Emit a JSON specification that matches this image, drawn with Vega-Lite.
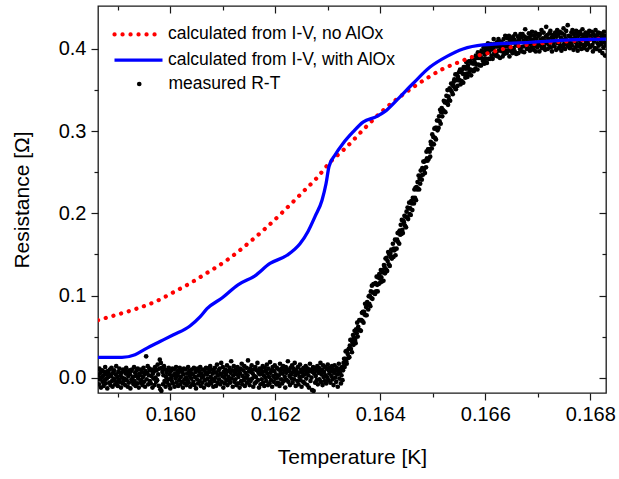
{
"$schema": "https://vega.github.io/schema/vega-lite/v6.json",
"autosize": {"type": "none"},
"width": 508, "height": 387,
"padding": {"left": 98, "top": 6, "right": 13, "bottom": 86},
"background": "white",
"config": {
  "view": {"stroke": "#1a1a1a", "strokeWidth": 1.3},
  "axis": {"grid": false, "domain": false, "tickColor": "#1a1a1a", "tickWidth": 1.2, "labelFont": "Liberation Sans", "labelFontSize": 20, "labelColor": "black", "titleFont": "Liberation Sans", "titleFontSize": 21, "titleFontWeight": "normal", "titleColor": "black"},
  "legend": {"orient": "none", "title": null, "padding": 0, "labelFont": "Liberation Sans", "labelFontSize": 17.5, "labelColor": "black", "labelLimit": 400, "symbolOpacity": 1}
},
"datasets": {
"m1": [
{"t":0.15863,"r":0.003},{"t":0.15864,"r":-0.008},{"t":0.15865,"r":0.011},{"t":0.15866,"r":-0.002},{"t":0.15867,"r":0.006},{"t":0.15868,"r":-0.012},{"t":0.15869,"r":0.000},{"t":0.15870,"r":0.009},{"t":0.15871,"r":-0.005},{"t":0.15872,"r":0.002},
{"t":0.15873,"r":-0.010},{"t":0.15874,"r":0.007},{"t":0.15875,"r":-0.003},{"t":0.15876,"r":0.013},{"t":0.15877,"r":-0.007},{"t":0.15878,"r":0.004},{"t":0.15879,"r":-0.001},{"t":0.15880,"r":-0.013},{"t":0.15881,"r":0.008},{"t":0.15882,"r":0.001},
{"t":0.15883,"r":0.005},{"t":0.15884,"r":-0.006},{"t":0.15885,"r":0.010},{"t":0.15886,"r":-0.009},{"t":0.15887,"r":0.002},{"t":0.15888,"r":0.012},{"t":0.15889,"r":-0.004},{"t":0.15890,"r":-0.011},{"t":0.15891,"r":0.006},{"t":0.15892,"r":-0.001},
{"t":0.15893,"r":0.009},{"t":0.15894,"r":-0.003},{"t":0.15895,"r":-0.008},{"t":0.15896,"r":0.004},{"t":0.15897,"r":0.014},{"t":0.15898,"r":-0.006},{"t":0.15899,"r":0.001},{"t":0.15900,"r":-0.010},{"t":0.15901,"r":0.007},{"t":0.15902,"r":-0.002},
{"t":0.15903,"r":0.011},{"t":0.15904,"r":-0.005},{"t":0.15905,"r":0.003},{"t":0.15906,"r":-0.012},{"t":0.15907,"r":0.006},{"t":0.15908,"r":0.000},{"t":0.15909,"r":-0.007},{"t":0.15910,"r":0.010},{"t":0.15911,"r":-0.004},{"t":0.15912,"r":0.008},
{"t":0.15913,"r":-0.001},{"t":0.15914,"r":-0.009},{"t":0.15915,"r":0.005},{"t":0.15916,"r":0.012},{"t":0.15917,"r":-0.003},{"t":0.15918,"r":0.007},{"t":0.15919,"r":-0.011},{"t":0.15920,"r":0.002},{"t":0.15921,"r":-0.006},{"t":0.15922,"r":0.009},
{"t":0.15923,"r":0.004},{"t":0.15924,"r":-0.013},{"t":0.15925,"r":0.008},{"t":0.15926,"r":-0.002},{"t":0.15927,"r":0.010},{"t":0.15928,"r":-0.005},{"t":0.15929,"r":0.001},{"t":0.15930,"r":-0.008},{"t":0.15931,"r":0.013},{"t":0.15932,"r":-0.004},
{"t":0.15933,"r":0.006},{"t":0.15934,"r":-0.010},{"t":0.15935,"r":0.002},{"t":0.15936,"r":0.009},{"t":0.15937,"r":-0.007},{"t":0.15938,"r":0.011},{"t":0.15939,"r":-0.001},{"t":0.15940,"r":-0.012},{"t":0.15941,"r":0.005},{"t":0.15942,"r":0.003},
{"t":0.15943,"r":-0.006},{"t":0.15944,"r":0.010},{"t":0.15945,"r":-0.003},{"t":0.15946,"r":0.007},{"t":0.15947,"r":-0.009},{"t":0.15948,"r":0.001},{"t":0.15949,"r":0.012},{"t":0.15950,"r":-0.005},{"t":0.15951,"r":0.004},{"t":0.15952,"r":-0.011},
{"t":0.15953,"r":0.008},{"t":0.15954,"r":0.026},{"t":0.15955,"r":-0.002},{"t":0.15956,"r":0.006},{"t":0.15957,"r":0.014},{"t":0.15958,"r":-0.008},{"t":0.15959,"r":0.003},{"t":0.15960,"r":0.011},{"t":0.15961,"r":-0.004},{"t":0.15962,"r":0.009},
{"t":0.15963,"r":-0.007},{"t":0.15964,"r":0.002},{"t":0.15965,"r":0.010},{"t":0.15966,"r":-0.012},{"t":0.15967,"r":0.005},{"t":0.15968,"r":-0.001},{"t":0.15969,"r":0.008},{"t":0.15970,"r":-0.009},{"t":0.15971,"r":0.013},{"t":0.15972,"r":0.000},
{"t":0.15973,"r":-0.005},{"t":0.15974,"r":0.009},{"t":0.15975,"r":-0.003},{"t":0.15976,"r":0.016},{"t":0.15977,"r":0.004},{"t":0.15978,"r":-0.010},{"t":0.15979,"r":0.011},{"t":0.15980,"r":0.022},{"t":0.15981,"r":-0.014},{"t":0.15982,"r":0.018},
{"t":0.15983,"r":-0.016},{"t":0.15984,"r":0.012},{"t":0.15985,"r":0.007},{"t":0.15986,"r":-0.008},{"t":0.15987,"r":0.003},{"t":0.15988,"r":0.014},{"t":0.15989,"r":-0.004},{"t":0.15990,"r":0.010},{"t":0.15991,"r":-0.011},{"t":0.15992,"r":0.001},
{"t":0.15993,"r":0.006},{"t":0.15994,"r":-0.006},{"t":0.15995,"r":0.009},{"t":0.15996,"r":-0.002},{"t":0.15997,"r":0.012},{"t":0.15998,"r":-0.009},{"t":0.15999,"r":0.004},{"t":0.16000,"r":-0.013},{"t":0.16001,"r":0.008},{"t":0.16002,"r":0.000},
{"t":0.16003,"r":-0.004},{"t":0.16004,"r":0.011},{"t":0.16005,"r":-0.007},{"t":0.16006,"r":0.003},{"t":0.16007,"r":0.010},{"t":0.16008,"r":-0.011},{"t":0.16009,"r":0.005},{"t":0.16010,"r":-0.001},{"t":0.16011,"r":0.013},{"t":0.16012,"r":-0.006},
{"t":0.16013,"r":0.002},{"t":0.16014,"r":0.008},{"t":0.16015,"r":-0.010},{"t":0.16016,"r":0.006},{"t":0.16017,"r":-0.003},{"t":0.16018,"r":0.012},{"t":0.16019,"r":-0.008},{"t":0.16020,"r":0.001},{"t":0.16021,"r":0.009},{"t":0.16022,"r":-0.005},
{"t":0.16023,"r":0.007},{"t":0.16024,"r":-0.012},{"t":0.16025,"r":0.004},{"t":0.16026,"r":0.011},{"t":0.16027,"r":-0.002},{"t":0.16028,"r":-0.007},{"t":0.16029,"r":0.010},{"t":0.16030,"r":0.000},{"t":0.16031,"r":-0.009},{"t":0.16032,"r":0.005},
{"t":0.16033,"r":-0.003},{"t":0.16034,"r":0.013},{"t":0.16035,"r":-0.006},{"t":0.16036,"r":0.008},{"t":0.16037,"r":0.002},{"t":0.16038,"r":-0.011},{"t":0.16039,"r":0.006},{"t":0.16040,"r":-0.001},{"t":0.16041,"r":0.010},{"t":0.16042,"r":-0.008},
{"t":0.16043,"r":0.004},{"t":0.16044,"r":-0.005},{"t":0.16045,"r":0.012},{"t":0.16046,"r":-0.009},{"t":0.16047,"r":0.001},{"t":0.16048,"r":0.007},{"t":0.16049,"r":-0.013},{"t":0.16050,"r":0.009},{"t":0.16051,"r":-0.002},{"t":0.16052,"r":0.011},
{"t":0.16053,"r":-0.007},{"t":0.16054,"r":0.003},{"t":0.16055,"r":0.008},{"t":0.16056,"r":-0.004},{"t":0.16057,"r":0.013},{"t":0.16058,"r":-0.010},{"t":0.16059,"r":0.005},{"t":0.16060,"r":0.000},{"t":0.16061,"r":-0.006},{"t":0.16062,"r":0.010},
{"t":0.16063,"r":0.002},{"t":0.16064,"r":-0.012},{"t":0.16065,"r":0.009},{"t":0.16066,"r":-0.003},{"t":0.16067,"r":0.006},{"t":0.16068,"r":0.012},{"t":0.16069,"r":-0.008},{"t":0.16070,"r":0.004},{"t":0.16071,"r":-0.001},{"t":0.16072,"r":0.011},
{"t":0.16073,"r":-0.009},{"t":0.16074,"r":0.007},{"t":0.16075,"r":-0.005},{"t":0.16076,"r":0.014},{"t":0.16077,"r":0.001},{"t":0.16078,"r":-0.007},{"t":0.16079,"r":0.010},{"t":0.16080,"r":-0.002},{"t":0.16081,"r":0.005},{"t":0.16082,"r":-0.011},
{"t":0.16083,"r":0.008},{"t":0.16084,"r":-0.004},{"t":0.16085,"r":0.012},{"t":0.16086,"r":0.000},{"t":0.16087,"r":-0.010},{"t":0.16088,"r":0.006},{"t":0.16089,"r":0.016},{"t":0.16090,"r":-0.006},{"t":0.16091,"r":0.003},{"t":0.16092,"r":0.009},
{"t":0.16093,"r":-0.002},{"t":0.16094,"r":0.011},{"t":0.16095,"r":-0.008},{"t":0.16096,"r":0.005},{"t":0.16097,"r":0.018},{"t":0.16098,"r":-0.005},{"t":0.16099,"r":0.002},{"t":0.16100,"r":0.013},{"t":0.16101,"r":-0.012},{"t":0.16102,"r":0.007},
{"t":0.16103,"r":0.000},{"t":0.16104,"r":-0.007},{"t":0.16105,"r":0.010},{"t":0.16106,"r":0.004},{"t":0.16107,"r":-0.003},{"t":0.16108,"r":0.015},{"t":0.16109,"r":-0.009},{"t":0.16110,"r":0.008},{"t":0.16111,"r":0.001},{"t":0.16112,"r":-0.004},
{"t":0.16113,"r":0.012},{"t":0.16114,"r":-0.006},{"t":0.16115,"r":0.006},{"t":0.16116,"r":0.020},{"t":0.16117,"r":-0.001},{"t":0.16118,"r":0.009},{"t":0.16119,"r":-0.011},{"t":0.16120,"r":0.003},{"t":0.16121,"r":0.014},{"t":0.16122,"r":-0.005},
{"t":0.16123,"r":0.007},{"t":0.16124,"r":-0.002},{"t":0.16125,"r":0.010},{"t":0.16126,"r":-0.009},{"t":0.16127,"r":0.004},{"t":0.16128,"r":0.013},{"t":0.16129,"r":-0.007},{"t":0.16130,"r":0.001},{"t":0.16131,"r":0.008},{"t":0.16132,"r":-0.012},
{"t":0.16133,"r":0.005},{"t":0.16134,"r":0.011},{"t":0.16135,"r":-0.004},{"t":0.16136,"r":0.017},{"t":0.16137,"r":-0.008},{"t":0.16138,"r":0.002},{"t":0.16139,"r":0.009},{"t":0.16140,"r":-0.003},{"t":0.16141,"r":0.014},{"t":0.16142,"r":-0.010},
{"t":0.16143,"r":0.006},{"t":0.16144,"r":0.000},{"t":0.16145,"r":0.012},{"t":0.16146,"r":-0.006},{"t":0.16147,"r":0.003},{"t":0.16148,"r":0.021},{"t":0.16149,"r":-0.002},{"t":0.16150,"r":0.008},{"t":0.16151,"r":-0.009},{"t":0.16152,"r":0.011},
{"t":0.16153,"r":-0.004},{"t":0.16154,"r":0.007},{"t":0.16155,"r":0.015},{"t":0.16156,"r":-0.001},{"t":0.16157,"r":0.005},{"t":0.16158,"r":-0.011},{"t":0.16159,"r":0.010},{"t":0.16160,"r":0.002},{"t":0.16161,"r":-0.007},{"t":0.16162,"r":0.013},
{"t":0.16163,"r":0.001},{"t":0.16164,"r":-0.005},{"t":0.16165,"r":0.009},{"t":0.16166,"r":0.018},{"t":0.16167,"r":-0.003},{"t":0.16168,"r":0.006},{"t":0.16169,"r":-0.012},{"t":0.16170,"r":0.011},{"t":0.16171,"r":0.004},{"t":0.16172,"r":-0.008},
{"t":0.16173,"r":0.010},{"t":0.16174,"r":-0.002},{"t":0.16175,"r":0.007},{"t":0.16176,"r":0.014},{"t":0.16177,"r":-0.006},{"t":0.16178,"r":0.003},{"t":0.16179,"r":-0.010},{"t":0.16180,"r":0.012},{"t":0.16181,"r":0.000},{"t":0.16182,"r":0.008},
{"t":0.16183,"r":-0.004},{"t":0.16184,"r":0.016},{"t":0.16185,"r":0.005},{"t":0.16186,"r":-0.009},{"t":0.16187,"r":0.011},{"t":0.16188,"r":0.001},{"t":0.16189,"r":-0.007},{"t":0.16190,"r":0.019},{"t":0.16191,"r":0.006},{"t":0.16192,"r":-0.003},
{"t":0.16193,"r":0.009},{"t":0.16194,"r":-0.011},{"t":0.16195,"r":0.013},{"t":0.16196,"r":0.002},{"t":0.16197,"r":-0.005},{"t":0.16198,"r":0.008},{"t":0.16199,"r":0.015},{"t":0.16200,"r":-0.001},{"t":0.16201,"r":0.004},{"t":0.16202,"r":-0.008},
{"t":0.16203,"r":0.012},{"t":0.16204,"r":0.000},{"t":0.16205,"r":-0.006},{"t":0.16206,"r":0.010},{"t":0.16207,"r":0.003},{"t":0.16208,"r":-0.010},{"t":0.16209,"r":0.017},{"t":0.16210,"r":0.007},{"t":0.16211,"r":-0.002},{"t":0.16212,"r":0.011},
{"t":0.16213,"r":-0.007},{"t":0.16214,"r":0.005},{"t":0.16215,"r":0.014},{"t":0.16216,"r":-0.004},{"t":0.16217,"r":0.009},{"t":0.16218,"r":0.001},{"t":0.16219,"r":-0.012},{"t":0.16220,"r":0.013},{"t":0.16221,"r":0.006},{"t":0.16222,"r":-0.003},
{"t":0.16223,"r":0.010},{"t":0.16224,"r":0.020},{"t":0.16225,"r":-0.005},{"t":0.16226,"r":0.008},{"t":0.16227,"r":0.002},{"t":0.16228,"r":-0.009},{"t":0.16229,"r":0.012},{"t":0.16230,"r":0.004},{"t":0.16231,"r":-0.001},{"t":0.16232,"r":0.015},
{"t":0.16233,"r":-0.006},{"t":0.16234,"r":0.007},{"t":0.16235,"r":0.011},{"t":0.16236,"r":-0.002},{"t":0.16237,"r":0.018},{"t":0.16238,"r":0.003},{"t":0.16239,"r":-0.010},{"t":0.16240,"r":0.009},{"t":0.16241,"r":0.005},{"t":0.16242,"r":-0.004},
{"t":0.16243,"r":0.013},{"t":0.16244,"r":-0.008},{"t":0.16245,"r":0.006},{"t":0.16246,"r":0.001},{"t":0.16247,"r":0.016},{"t":0.16248,"r":-0.003},{"t":0.16249,"r":0.010},{"t":0.16250,"r":-0.011},{"t":0.16251,"r":0.007},{"t":0.16252,"r":0.002},
{"t":0.16253,"r":-0.005},{"t":0.16254,"r":0.012},{"t":0.16255,"r":0.004},{"t":0.16256,"r":-0.007},{"t":0.16257,"r":0.009},{"t":0.16258,"r":0.014},{"t":0.16259,"r":-0.001},{"t":0.16260,"r":0.006},{"t":0.16261,"r":-0.009},{"t":0.16262,"r":0.011},
{"t":0.16263,"r":0.003},{"t":0.16264,"r":-0.012},{"t":0.16265,"r":0.008},{"t":0.16266,"r":0.017},{"t":0.16267,"r":-0.004},{"t":0.16268,"r":0.010},{"t":0.16269,"r":0.000},{"t":0.16270,"r":-0.015},{"t":0.16271,"r":0.007},{"t":0.16272,"r":0.013},
{"t":0.16273,"r":-0.016},{"t":0.16274,"r":0.005},{"t":0.16275,"r":0.011},{"t":0.16276,"r":-0.006},{"t":0.16277,"r":0.002},{"t":0.16278,"r":0.009},{"t":0.16279,"r":-0.003},{"t":0.16280,"r":0.014},{"t":0.16281,"r":-0.008},{"t":0.16282,"r":0.006},
{"t":0.16283,"r":0.012},{"t":0.16284,"r":-0.002},{"t":0.16285,"r":0.008},{"t":0.16286,"r":0.018},{"t":0.16287,"r":-0.005},{"t":0.16288,"r":0.004},{"t":0.16289,"r":0.010},{"t":0.16290,"r":-0.009},{"t":0.16291,"r":0.015},{"t":0.16292,"r":0.001},
{"t":0.16293,"r":0.007},{"t":0.16294,"r":-0.004},{"t":0.16295,"r":0.013},{"t":0.16296,"r":0.003},{"t":0.16297,"r":-0.007},{"t":0.16298,"r":0.011},{"t":0.16299,"r":0.000},{"t":0.16300,"r":0.016},{"t":0.16301,"r":-0.003},{"t":0.16302,"r":0.009},
{"t":0.16303,"r":0.005},{"t":0.16304,"r":0.012},{"t":0.16305,"r":-0.006},{"t":0.16306,"r":0.008},{"t":0.16307,"r":0.002},{"t":0.16308,"r":0.014},{"t":0.16309,"r":-0.002},{"t":0.16310,"r":0.010},{"t":0.16311,"r":-0.009},{"t":0.16312,"r":0.006},
{"t":0.16313,"r":0.015},{"t":0.16314,"r":0.000},{"t":0.16315,"r":0.009},{"t":0.16316,"r":-0.005},{"t":0.16317,"r":0.012},{"t":0.16318,"r":0.004},{"t":0.16319,"r":-0.011},{"t":0.16320,"r":0.008},{"t":0.16321,"r":0.017},{"t":0.16322,"r":-0.001},
{"t":0.16323,"r":0.006},{"t":0.16324,"r":0.011},{"t":0.16325,"r":-0.007},{"t":0.16326,"r":0.003},{"t":0.16327,"r":0.013},{"t":0.16328,"r":-0.003},{"t":0.16329,"r":0.009},{"t":0.16330,"r":0.018}
],
"m2": [
{"t":0.16331,"r":0.023},{"t":0.16332,"r":0.013},{"t":0.16333,"r":0.023},{"t":0.16334,"r":0.032},{"t":0.16335,"r":0.020},{"t":0.16336,"r":0.017},{"t":0.16337,"r":0.033},{"t":0.16338,"r":0.029},{"t":0.16339,"r":0.024},{"t":0.16340,"r":0.035},
{"t":0.16341,"r":0.025},{"t":0.16342,"r":0.039},{"t":0.16343,"r":0.046},{"t":0.16344,"r":0.035},{"t":0.16345,"r":0.046},{"t":0.16346,"r":0.031},{"t":0.16347,"r":0.043},{"t":0.16348,"r":0.052},{"t":0.16349,"r":0.040},{"t":0.16350,"r":0.049},
{"t":0.16351,"r":0.057},{"t":0.16352,"r":0.046},{"t":0.16353,"r":0.042},{"t":0.16354,"r":0.059},{"t":0.16355,"r":0.054},{"t":0.16356,"r":0.067},{"t":0.16357,"r":0.050},{"t":0.16358,"r":0.062},{"t":0.16359,"r":0.058},{"t":0.16360,"r":0.070},
{"t":0.16361,"r":0.058},{"t":0.16362,"r":0.070},{"t":0.16363,"r":0.057},{"t":0.16364,"r":0.070},{"t":0.16365,"r":0.079},{"t":0.16366,"r":0.069},{"t":0.16367,"r":0.080},{"t":0.16368,"r":0.067},{"t":0.16369,"r":0.080},{"t":0.16370,"r":0.077},
{"t":0.16371,"r":0.090},{"t":0.16372,"r":0.076},{"t":0.16373,"r":0.086},{"t":0.16374,"r":0.076},{"t":0.16375,"r":0.092},{"t":0.16376,"r":0.089},{"t":0.16377,"r":0.083},{"t":0.16378,"r":0.099},{"t":0.16379,"r":0.090},{"t":0.16380,"r":0.100},
{"t":0.16381,"r":0.087},{"t":0.16382,"r":0.105},{"t":0.16383,"r":0.097},{"t":0.16384,"r":0.112},{"t":0.16385,"r":0.096},{"t":0.16386,"r":0.104},{"t":0.16387,"r":0.114},{"t":0.16388,"r":0.103},{"t":0.16389,"r":0.114},{"t":0.16390,"r":0.102},
{"t":0.16391,"r":0.115},{"t":0.16392,"r":0.105},{"t":0.16393,"r":0.123},{"t":0.16394,"r":0.113},{"t":0.16395,"r":0.105},{"t":0.16396,"r":0.122},{"t":0.16397,"r":0.114},{"t":0.16398,"r":0.126},{"t":0.16399,"r":0.121},{"t":0.16400,"r":0.116},
{"t":0.16401,"r":0.131},{"t":0.16402,"r":0.122},{"t":0.16403,"r":0.117},{"t":0.16404,"r":0.131},{"t":0.16405,"r":0.128},{"t":0.16406,"r":0.118},{"t":0.16407,"r":0.137},{"t":0.16408,"r":0.135},{"t":0.16409,"r":0.127},{"t":0.16410,"r":0.145},
{"t":0.16411,"r":0.132},{"t":0.16412,"r":0.146},{"t":0.16413,"r":0.130},{"t":0.16414,"r":0.142},{"t":0.16415,"r":0.153},{"t":0.16416,"r":0.138},{"t":0.16417,"r":0.150},{"t":0.16418,"r":0.136},{"t":0.16419,"r":0.151},{"t":0.16420,"r":0.147},
{"t":0.16421,"r":0.156},{"t":0.16422,"r":0.145},{"t":0.16423,"r":0.155},{"t":0.16424,"r":0.163},{"t":0.16425,"r":0.147},{"t":0.16426,"r":0.157},{"t":0.16427,"r":0.155},{"t":0.16428,"r":0.168},{"t":0.16429,"r":0.149},{"t":0.16430,"r":0.167},
{"t":0.16431,"r":0.157},{"t":0.16432,"r":0.168},{"t":0.16433,"r":0.176},{"t":0.16434,"r":0.165},{"t":0.16435,"r":0.177},{"t":0.16436,"r":0.163},{"t":0.16437,"r":0.179},{"t":0.16438,"r":0.174},{"t":0.16439,"r":0.186},{"t":0.16440,"r":0.175},
{"t":0.16441,"r":0.192},{"t":0.16442,"r":0.180},{"t":0.16443,"r":0.176},{"t":0.16444,"r":0.191},{"t":0.16445,"r":0.189},{"t":0.16446,"r":0.197},{"t":0.16447,"r":0.185},{"t":0.16448,"r":0.196},{"t":0.16449,"r":0.183},{"t":0.16450,"r":0.202},
{"t":0.16451,"r":0.195},{"t":0.16452,"r":0.207},{"t":0.16453,"r":0.193},{"t":0.16454,"r":0.206},{"t":0.16455,"r":0.213},{"t":0.16456,"r":0.199},{"t":0.16457,"r":0.206},{"t":0.16458,"r":0.198},{"t":0.16459,"r":0.215},{"t":0.16460,"r":0.212},
{"t":0.16461,"r":0.204},{"t":0.16462,"r":0.219},{"t":0.16463,"r":0.217},{"t":0.16464,"r":0.212},{"t":0.16465,"r":0.229},{"t":0.16466,"r":0.219},{"t":0.16467,"r":0.231},{"t":0.16468,"r":0.216},{"t":0.16469,"r":0.232},{"t":0.16470,"r":0.229},
{"t":0.16471,"r":0.238},{"t":0.16472,"r":0.230},{"t":0.16473,"r":0.246},{"t":0.16474,"r":0.229},{"t":0.16475,"r":0.242},{"t":0.16476,"r":0.236},{"t":0.16477,"r":0.252},{"t":0.16478,"r":0.246},{"t":0.16479,"r":0.241},{"t":0.16480,"r":0.255},
{"t":0.16481,"r":0.247},{"t":0.16482,"r":0.263},{"t":0.16483,"r":0.253},{"t":0.16484,"r":0.263},{"t":0.16485,"r":0.249},{"t":0.16486,"r":0.264},{"t":0.16487,"r":0.256},{"t":0.16488,"r":0.275},{"t":0.16489,"r":0.267},{"t":0.16490,"r":0.264},
{"t":0.16491,"r":0.278},{"t":0.16492,"r":0.266},{"t":0.16493,"r":0.278},{"t":0.16494,"r":0.275},{"t":0.16495,"r":0.269},{"t":0.16496,"r":0.287},{"t":0.16497,"r":0.284},{"t":0.16498,"r":0.279},{"t":0.16499,"r":0.296},{"t":0.16500,"r":0.285},
{"t":0.16501,"r":0.293},{"t":0.16502,"r":0.284},{"t":0.16503,"r":0.303},{"t":0.16504,"r":0.292},{"t":0.16505,"r":0.304},{"t":0.16506,"r":0.290},{"t":0.16507,"r":0.304},{"t":0.16508,"r":0.313},{"t":0.16509,"r":0.301},{"t":0.16510,"r":0.313},
{"t":0.16511,"r":0.304},{"t":0.16512,"r":0.318},{"t":0.16513,"r":0.312},{"t":0.16514,"r":0.326},{"t":0.16515,"r":0.309},{"t":0.16516,"r":0.323},{"t":0.16517,"r":0.328},{"t":0.16518,"r":0.318},{"t":0.16519,"r":0.326},{"t":0.16520,"r":0.324},
{"t":0.16521,"r":0.337},{"t":0.16522,"r":0.324},{"t":0.16523,"r":0.335},{"t":0.16524,"r":0.323},{"t":0.16525,"r":0.336},{"t":0.16526,"r":0.343},{"t":0.16527,"r":0.334},{"t":0.16528,"r":0.350},{"t":0.16529,"r":0.332},{"t":0.16530,"r":0.342},
{"t":0.16531,"r":0.338},{"t":0.16532,"r":0.352},{"t":0.16533,"r":0.337},{"t":0.16534,"r":0.350},{"t":0.16535,"r":0.358},{"t":0.16536,"r":0.348},{"t":0.16537,"r":0.357},{"t":0.16538,"r":0.345},{"t":0.16539,"r":0.355},{"t":0.16540,"r":0.360},
{"t":0.16541,"r":0.363},{"t":0.16542,"r":0.353},{"t":0.16543,"r":0.369},{"t":0.16544,"r":0.351},{"t":0.16545,"r":0.362},{"t":0.16546,"r":0.369},{"t":0.16547,"r":0.355},{"t":0.16548,"r":0.366},{"t":0.16549,"r":0.362},{"t":0.16550,"r":0.372},
{"t":0.16551,"r":0.362},{"t":0.16552,"r":0.375},{"t":0.16553,"r":0.357},{"t":0.16554,"r":0.372},{"t":0.16555,"r":0.361},{"t":0.16556,"r":0.375},{"t":0.16557,"r":0.370},{"t":0.16558,"r":0.359},{"t":0.16559,"r":0.378},{"t":0.16560,"r":0.369},
{"t":0.16561,"r":0.378},{"t":0.16562,"r":0.365},{"t":0.16563,"r":0.376},{"t":0.16564,"r":0.384},{"t":0.16565,"r":0.370},{"t":0.16566,"r":0.366},{"t":0.16567,"r":0.380},{"t":0.16568,"r":0.376},{"t":0.16569,"r":0.385},{"t":0.16570,"r":0.372},
{"t":0.16571,"r":0.385},{"t":0.16572,"r":0.375},{"t":0.16573,"r":0.368},{"t":0.16574,"r":0.383},{"t":0.16575,"r":0.389},{"t":0.16576,"r":0.374},{"t":0.16577,"r":0.382},{"t":0.16578,"r":0.373},{"t":0.16579,"r":0.387},{"t":0.16580,"r":0.383},
{"t":0.16581,"r":0.376},{"t":0.16582,"r":0.392},{"t":0.16583,"r":0.381},{"t":0.16584,"r":0.389},{"t":0.16585,"r":0.375},{"t":0.16586,"r":0.396},{"t":0.16587,"r":0.381},{"t":0.16588,"r":0.389},{"t":0.16589,"r":0.394},{"t":0.16590,"r":0.380},
{"t":0.16591,"r":0.391},{"t":0.16592,"r":0.380},{"t":0.16593,"r":0.398},{"t":0.16594,"r":0.388},{"t":0.16595,"r":0.396},{"t":0.16596,"r":0.385},{"t":0.16597,"r":0.402},{"t":0.16598,"r":0.382},{"t":0.16599,"r":0.393},{"t":0.16600,"r":0.398},
{"t":0.16601,"r":0.388},{"t":0.16602,"r":0.402},{"t":0.16603,"r":0.383},{"t":0.16604,"r":0.399},{"t":0.16605,"r":0.407},{"t":0.16606,"r":0.388},{"t":0.16607,"r":0.396},{"t":0.16608,"r":0.403},{"t":0.16609,"r":0.388},{"t":0.16610,"r":0.399},
{"t":0.16611,"r":0.406},{"t":0.16612,"r":0.392},{"t":0.16613,"r":0.403},{"t":0.16614,"r":0.388},{"t":0.16615,"r":0.400},{"t":0.16616,"r":0.412},{"t":0.16617,"r":0.395},{"t":0.16618,"r":0.406},{"t":0.16619,"r":0.392},{"t":0.16620,"r":0.403},
{"t":0.16621,"r":0.394},{"t":0.16622,"r":0.408},{"t":0.16623,"r":0.403},{"t":0.16624,"r":0.391},{"t":0.16625,"r":0.412},{"t":0.16626,"r":0.398},{"t":0.16627,"r":0.405},{"t":0.16628,"r":0.389},{"t":0.16629,"r":0.409},{"t":0.16630,"r":0.401},
{"t":0.16631,"r":0.408},{"t":0.16632,"r":0.397},{"t":0.16633,"r":0.391},{"t":0.16634,"r":0.405},{"t":0.16635,"r":0.412},{"t":0.16636,"r":0.394},{"t":0.16637,"r":0.403},{"t":0.16638,"r":0.416},{"t":0.16639,"r":0.398},{"t":0.16640,"r":0.407},
{"t":0.16641,"r":0.395},{"t":0.16642,"r":0.413},{"t":0.16643,"r":0.403},{"t":0.16644,"r":0.398},{"t":0.16645,"r":0.416},{"t":0.16646,"r":0.391},{"t":0.16647,"r":0.409},{"t":0.16648,"r":0.402},{"t":0.16649,"r":0.412},{"t":0.16650,"r":0.397},
{"t":0.16651,"r":0.408},{"t":0.16652,"r":0.395},{"t":0.16653,"r":0.415},{"t":0.16654,"r":0.401},{"t":0.16655,"r":0.411},{"t":0.16656,"r":0.397},{"t":0.16657,"r":0.418},{"t":0.16658,"r":0.405},{"t":0.16659,"r":0.394},{"t":0.16660,"r":0.409},
{"t":0.16661,"r":0.404},{"t":0.16662,"r":0.415},{"t":0.16663,"r":0.395},{"t":0.16664,"r":0.412},{"t":0.16665,"r":0.409},{"t":0.16666,"r":0.400},{"t":0.16667,"r":0.418},{"t":0.16668,"r":0.402},{"t":0.16669,"r":0.414},{"t":0.16670,"r":0.397},
{"t":0.16671,"r":0.418},{"t":0.16672,"r":0.403},{"t":0.16673,"r":0.410},{"t":0.16674,"r":0.396},{"t":0.16675,"r":0.415},{"t":0.16676,"r":0.424},{"t":0.16677,"r":0.405},{"t":0.16678,"r":0.413},{"t":0.16679,"r":0.400},{"t":0.16680,"r":0.409},
{"t":0.16681,"r":0.401},{"t":0.16682,"r":0.414},{"t":0.16683,"r":0.419},{"t":0.16684,"r":0.406},{"t":0.16685,"r":0.398},{"t":0.16686,"r":0.412},{"t":0.16687,"r":0.417},{"t":0.16688,"r":0.402},{"t":0.16689,"r":0.421},{"t":0.16690,"r":0.407},
{"t":0.16691,"r":0.411},{"t":0.16692,"r":0.399},{"t":0.16693,"r":0.416},{"t":0.16694,"r":0.404},{"t":0.16695,"r":0.420},{"t":0.16696,"r":0.397},{"t":0.16697,"r":0.413},{"t":0.16698,"r":0.408},{"t":0.16699,"r":0.402},{"t":0.16700,"r":0.418},
{"t":0.16701,"r":0.406},{"t":0.16702,"r":0.416},{"t":0.16703,"r":0.397},{"t":0.16704,"r":0.418},{"t":0.16705,"r":0.411},{"t":0.16706,"r":0.404},{"t":0.16707,"r":0.423},{"t":0.16708,"r":0.401},{"t":0.16709,"r":0.413},{"t":0.16710,"r":0.408},
{"t":0.16711,"r":0.420},{"t":0.16712,"r":0.403},{"t":0.16713,"r":0.410},{"t":0.16714,"r":0.399},{"t":0.16715,"r":0.415},{"t":0.16716,"r":0.427},{"t":0.16717,"r":0.407},{"t":0.16718,"r":0.417},{"t":0.16719,"r":0.400},{"t":0.16720,"r":0.412},
{"t":0.16721,"r":0.405},{"t":0.16722,"r":0.419},{"t":0.16723,"r":0.409},{"t":0.16724,"r":0.422},{"t":0.16725,"r":0.402},{"t":0.16726,"r":0.414},{"t":0.16727,"r":0.397},{"t":0.16728,"r":0.417},{"t":0.16729,"r":0.412},{"t":0.16730,"r":0.406},
{"t":0.16731,"r":0.416},{"t":0.16732,"r":0.403},{"t":0.16733,"r":0.420},{"t":0.16734,"r":0.410},{"t":0.16735,"r":0.399},{"t":0.16736,"r":0.415},{"t":0.16737,"r":0.423},{"t":0.16738,"r":0.407},{"t":0.16739,"r":0.418},{"t":0.16740,"r":0.401},
{"t":0.16741,"r":0.408},{"t":0.16742,"r":0.421},{"t":0.16743,"r":0.404},{"t":0.16744,"r":0.414},{"t":0.16745,"r":0.398},{"t":0.16746,"r":0.419},{"t":0.16747,"r":0.411},{"t":0.16748,"r":0.402},{"t":0.16749,"r":0.425},{"t":0.16750,"r":0.406},
{"t":0.16751,"r":0.417},{"t":0.16752,"r":0.400},{"t":0.16753,"r":0.413},{"t":0.16754,"r":0.422},{"t":0.16755,"r":0.405},{"t":0.16756,"r":0.410},{"t":0.16757,"r":0.429},{"t":0.16758,"r":0.403},{"t":0.16759,"r":0.416},{"t":0.16760,"r":0.408},
{"t":0.16761,"r":0.401},{"t":0.16762,"r":0.415},{"t":0.16763,"r":0.407},{"t":0.16764,"r":0.420},{"t":0.16765,"r":0.404},{"t":0.16766,"r":0.423},{"t":0.16767,"r":0.412},{"t":0.16768,"r":0.399},{"t":0.16769,"r":0.418},{"t":0.16770,"r":0.409},
{"t":0.16771,"r":0.414},{"t":0.16772,"r":0.402},{"t":0.16773,"r":0.422},{"t":0.16774,"r":0.406},{"t":0.16775,"r":0.419},{"t":0.16776,"r":0.398},{"t":0.16777,"r":0.416},{"t":0.16778,"r":0.411},{"t":0.16779,"r":0.403},{"t":0.16780,"r":0.421},
{"t":0.16781,"r":0.407},{"t":0.16782,"r":0.418},{"t":0.16783,"r":0.400},{"t":0.16784,"r":0.413},{"t":0.16785,"r":0.424},{"t":0.16786,"r":0.405},{"t":0.16787,"r":0.417},{"t":0.16788,"r":0.401},{"t":0.16789,"r":0.412},{"t":0.16790,"r":0.404},
{"t":0.16791,"r":0.420},{"t":0.16792,"r":0.408},{"t":0.16793,"r":0.415},{"t":0.16794,"r":0.399},{"t":0.16795,"r":0.419},{"t":0.16796,"r":0.406},{"t":0.16797,"r":0.411},{"t":0.16798,"r":0.422},{"t":0.16799,"r":0.402},{"t":0.16800,"r":0.416},
{"t":0.16801,"r":0.403},{"t":0.16802,"r":0.413},{"t":0.16803,"r":0.421},{"t":0.16804,"r":0.405},{"t":0.16805,"r":0.397},{"t":0.16806,"r":0.418},{"t":0.16807,"r":0.409},{"t":0.16808,"r":0.416},{"t":0.16809,"r":0.401},{"t":0.16810,"r":0.423},
{"t":0.16811,"r":0.412},{"t":0.16812,"r":0.400},{"t":0.16813,"r":0.417},{"t":0.16814,"r":0.407},{"t":0.16815,"r":0.420},{"t":0.16816,"r":0.404},{"t":0.16817,"r":0.414},{"t":0.16818,"r":0.398},{"t":0.16819,"r":0.419},{"t":0.16820,"r":0.410},
{"t":0.16821,"r":0.406},{"t":0.16822,"r":0.418},{"t":0.16823,"r":0.395},{"t":0.16824,"r":0.415},{"t":0.16825,"r":0.402},{"t":0.16826,"r":0.421},{"t":0.16827,"r":0.408},{"t":0.16828,"r":0.392},{"t":0.16829,"r":0.416},{"t":0.16830,"r":0.405}
],
"a": [
{"t":0.158623,"r":0.070},{"t":0.15900,"r":0.077},{"t":0.15936,"r":0.084},{"t":0.15973,"r":0.093},{"t":0.16009,"r":0.105},{"t":0.16038,"r":0.115},{"t":0.16066,"r":0.126},{"t":0.16110,"r":0.144},{"t":0.16153,"r":0.166},{"t":0.16180,"r":0.181},{"t":0.16210,"r":0.199},{"t":0.16251,"r":0.225},{"t":0.16279,"r":0.243},{"t":0.16304,"r":0.262},{"t":0.16333,"r":0.279},{"t":0.16374,"r":0.306},{"t":0.16403,"r":0.324},{"t":0.16444,"r":0.345},{"t":0.16488,"r":0.364},{"t":0.16517,"r":0.375},{"t":0.16546,"r":0.383},{"t":0.16574,"r":0.390},{"t":0.16606,"r":0.395},{"t":0.16647,"r":0.402},{"t":0.16691,"r":0.406},{"t":0.16749,"r":0.409},{"t":0.16812,"r":0.412},{"t":0.168299,"r":0.413}
],
"b": [
{"t":0.158623,"r":0.0248},{"t":0.159080,"r":0.0248},{"t":0.159328,"r":0.028},{"t":0.159556,"r":0.036},{"t":0.159804,"r":0.044},{"t":0.160051,"r":0.052},{"t":0.160375,"r":0.063},{"t":0.160566,"r":0.074},{"t":0.160699,"r":0.084},{"t":0.160985,"r":0.097},{"t":0.161290,"r":0.113},{"t":0.161613,"r":0.124},{"t":0.161899,"r":0.139},{"t":0.162223,"r":0.149},{"t":0.162470,"r":0.163},{"t":0.162623,"r":0.178},{"t":0.162756,"r":0.196},{"t":0.162890,"r":0.216},{"t":0.162966,"r":0.236},{"t":0.163023,"r":0.257},{"t":0.163137,"r":0.271},{"t":0.163290,"r":0.285},{"t":0.163480,"r":0.299},{"t":0.163671,"r":0.311},{"t":0.163937,"r":0.318},{"t":0.164090,"r":0.324},{"t":0.164318,"r":0.338},{"t":0.164623,"r":0.358},{"t":0.164947,"r":0.378},{"t":0.165270,"r":0.391},{"t":0.165575,"r":0.400},{"t":0.165956,"r":0.405},{"t":0.166851,"r":0.408},{"t":0.167613,"r":0.411},{"t":0.168299,"r":0.412}
]
},
"resolve": {"axis": {"x": "independent", "y": "independent"}, "scale": {"color": "independent"}, "legend": {"color": "independent"}},
"layer": [
{
  "data": {"name": "m1"},
  "mark": {"type": "point", "filled": true, "size": 22, "opacity": 1, "clip": true},
  "encoding": {
    "x": {"field": "t", "type": "quantitative", "scale": {"domain": [0.158623, 0.168299], "nice": false, "zero": false},
      "axis": {"orient": "bottom", "values": [0.160, 0.162, 0.164, 0.166, 0.168], "format": ".3f", "tickSize": 7, "labelPadding": 4, "title": "Temperature [K]", "titlePadding": 22}},
    "y": {"field": "r", "type": "quantitative", "scale": {"domain": [-0.0186, 0.4523], "nice": false, "zero": false},
      "axis": {"orient": "left", "values": [0, 0.1, 0.2, 0.3, 0.4], "format": ".1f", "tickSize": 7, "labelPadding": 5, "title": "Resistance [Ω]", "titlePadding": 26}},
    "color": {"datum": "measured R-T", "type": "nominal", "scale": {"range": ["#000000"]},
      "legend": {"legendX": 32.5, "legendY": 69.25, "symbolType": "circle", "symbolSize": 22, "symbolStrokeWidth": 0, "symbolFillColor": "#000000", "labelOffset": 20.5}}
  }
},
{
  "data": {"name": "m2"},
  "mark": {"type": "point", "filled": true, "size": 22, "opacity": 1, "clip": true},
  "encoding": {
    "x": {"field": "t", "type": "quantitative", "axis": {"orient": "bottom", "values": [0.159, 0.161, 0.163, 0.165, 0.167], "tickSize": 4, "labels": false, "title": null}},
    "y": {"field": "r", "type": "quantitative", "axis": {"orient": "left", "values": [0.05, 0.15, 0.25, 0.35], "tickSize": 4, "labels": false, "title": null}},
    "color": {"datum": "measured R-T", "type": "nominal", "scale": {"range": ["#000000"]}, "legend": null}
  }
},
{
  "data": {"name": "a"},
  "mark": {"type": "line", "interpolate": "monotone", "strokeWidth": 4.2, "strokeDash": [0.1, 7.9], "strokeCap": "round", "clip": true},
  "encoding": {
    "x": {"field": "t", "type": "quantitative", "axis": {"orient": "top", "values": [0.160, 0.162, 0.164, 0.166, 0.168], "tickSize": -7, "labels": false, "title": null}},
    "y": {"field": "r", "type": "quantitative", "axis": {"orient": "right", "values": [0, 0.1, 0.2, 0.3, 0.4], "tickSize": -7, "labels": false, "title": null}},
    "color": {"datum": "calculated from I-V, no AlOx", "type": "nominal", "scale": {"range": ["#ff0000"]},
      "legend": {"legendX": 14, "legendY": 1.9, "symbolType": "stroke", "symbolSize": 2304, "symbolStrokeWidth": 4.2, "symbolStrokeColor": "#ff0000", "symbolDash": [0.1, 7.9], "labelOffset": 3,
        "encode": {"symbols": {"update": {"strokeCap": {"value": "round"}}}}}}
  }
},
{
  "data": {"name": "b"},
  "mark": {"type": "line", "interpolate": "monotone", "strokeWidth": 3.3, "clip": true},
  "encoding": {
    "x": {"field": "t", "type": "quantitative", "axis": {"orient": "top", "values": [0.159, 0.161, 0.163, 0.165, 0.167], "tickSize": -4, "labels": false, "title": null}},
    "y": {"field": "r", "type": "quantitative", "axis": {"orient": "right", "values": [0.05, 0.15, 0.25, 0.35], "tickSize": -4, "labels": false, "title": null}},
    "color": {"datum": "calculated from I-V, with AlOx", "type": "nominal", "scale": {"range": ["#0000ff"]},
      "legend": {"legendX": 14.5, "legendY": 28.1, "symbolType": "stroke", "symbolSize": 2304, "symbolStrokeWidth": 3.3, "symbolStrokeColor": "#0000ff", "labelOffset": 3.5}}
  }
}
]
}
